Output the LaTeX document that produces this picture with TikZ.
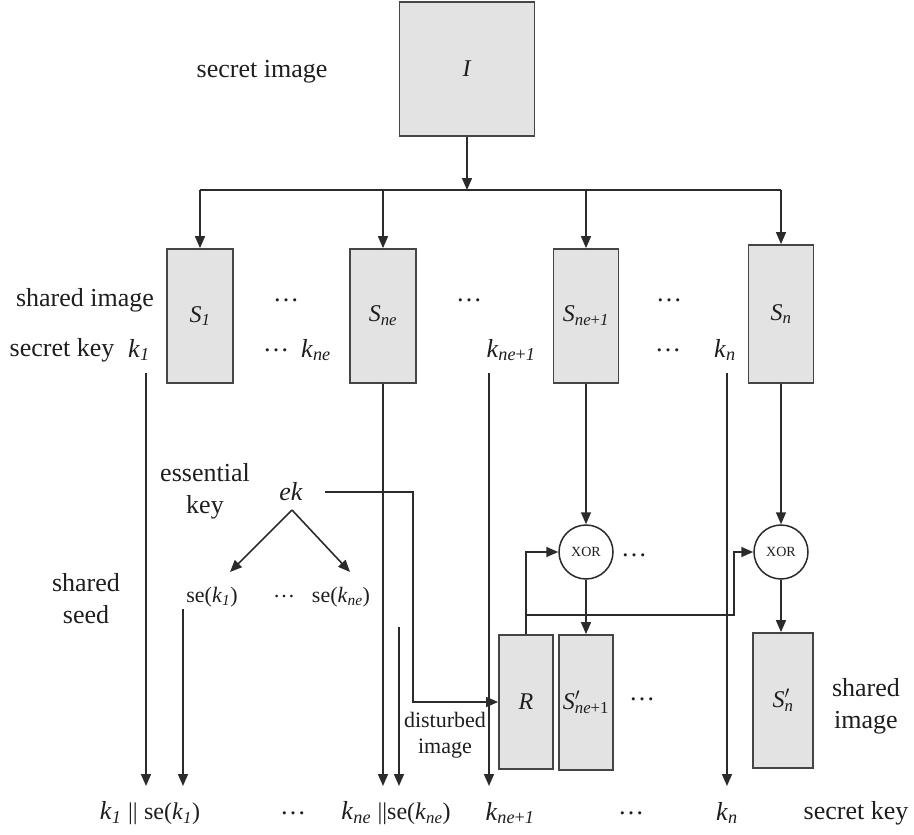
\documentclass[tikz,border=0pt]{standalone}
\usepackage{fontspec}
\setmainfont{Liberation Serif}
\usetikzlibrary{arrows.meta}
% italic symbol with italic subscript
\newcommand\isub[2]{\textit{#1}\textsubscript{#2}}
% primed symbol with stacked subscript
\newcommand\ipsub[2]{\textit{#1}\rlap{\textsuperscript{$\prime$}}\textsubscript{#2}}
\definecolor{boxfill}{HTML}{E3E3E3}
\definecolor{boxline}{HTML}{454545}
\definecolor{wirecol}{HTML}{2B2B2B}
\definecolor{inkcol}{HTML}{1E1E1E}
\begin{document}
\begin{tikzpicture}[x=1pt,y=-1pt,
  lbl/.style={font=\fontsize{26}{32}\selectfont, inner sep=0pt, text=inkcol, align=center},
  small/.style={font=\fontsize{22}{26}\selectfont, inner sep=0pt, text=inkcol, align=center},
  img/.style={draw=boxline, line width=1.8pt, fill=boxfill, inner sep=0pt,
              text=inkcol, font=\fontsize{24}{26}\selectfont},
  wire/.style={draw=wirecol, line width=1.6pt},
  arr/.style={wire, -{Triangle[length=12pt,width=10pt]}},
  xorgate/.style={circle, draw=wirecol, line width=1.5pt, fill=white, minimum size=54pt,
                  inner sep=0pt, text=inkcol, font=\fontsize{14}{16}\selectfont}
]
\useasboundingbox (0,0) rectangle (914,835);

% secret image and its split into shares
\node[img, minimum width=135pt, minimum height=134pt] (I) at (467,69) {\textit{I}};
\node[lbl] (secimg) at (262,72) {secret image};
\coordinate (bar) at (467,190);

\node[img, minimum width=66pt, minimum height=134pt] (S1)  at (200,316) {\isub{S}{\textit{1}}};
\node[img, minimum width=66pt, minimum height=134pt] (Sne) at (383,316) {\isub{S}{\textit{ne}}};
\node[img, minimum width=65pt, minimum height=134pt] (Sb)  at (586,316) {\isub{S}{\textit{ne}+\textit{1}}};
\node[img, minimum width=65pt, minimum height=138pt] (Sn)  at (781,314) {\isub{S}{\textit{n}}};

\draw[arr] (I.south) -- (bar);
\draw[wire] (bar -| S1.north) -- (bar -| Sn.north);
\foreach \b in {S1,Sne,Sb,Sn}
  \draw[arr] (bar -| \b.north) -- (\b.north);

% row labels
\node[lbl] (shimg) at (85,300) {shared image};
\node[lbl] (seckey) at (62,350) {secret key};
\node[lbl] (k1) at (139,350) {\isub{k}{\textit{1}}};
\node[lbl] (dA) at (286,300) {\dots};
\node[lbl] (dB) at (469,300) {\dots};
\node[lbl] (dC) at (669,300) {\dots};
\node[lbl] (dD) at (276,350) {…};
\node[lbl] (kne) at (316,350) {\isub{k}{\textit{ne}}};
\node[lbl] (kb) at (511,350) {\isub{k}{\textit{ne}+\textit{1}}};
\node[lbl] (dE) at (668,350) {…};
\node[lbl] (kn) at (725,350) {\isub{k}{\textit{n}}};

% essential key and shared seeds
\node[lbl] (esskey) at (205,491) {essential\\key};
\node[lbl] (ek) at (291,492) {\textit{ek}};
\node[lbl] (shseed) at (86,599) {shared\\seed};
\node[small] (se1) at (212,597) {se(\isub{k}{\textit{1}})};
\node[small] (dF) at (284,597) {…};
\node[small] (sene) at (341,597) {se(\isub{k}{\textit{ne}})};
\coordinate (fork) at (292,510);
\coordinate (tipA) at (230,572);
\coordinate (tipB) at (350,572);
\draw[arr] (fork) -- (tipA);
\draw[arr] (fork) -- (tipB);

% disturbed image and XOR stage
\node[img, minimum width=54pt, minimum height=134pt] (R)  at (526,702) {\textit{R}};
\node[img, minimum width=54pt, minimum height=135pt] (Sp) at (586,702.5) {\ipsub{S}{\textit{ne}+1}};
\node[img, minimum width=60pt, minimum height=135pt] (Snp) at (783,700.5) {\ipsub{S}{\textit{n}}};
\node[xorgate] (x1) at (586,552) {XOR};
\node[xorgate] (x2) at (781,552) {XOR};
\node[lbl] (dG) at (634,555) {\dots};
\node[lbl] (dH) at (642,699) {\dots};
\node[small] (dist) at (445,735) {disturbed\\image};
\node[lbl] (shimg2) at (866,706) {shared\\image};

\coordinate (ekdrop) at (413,702);
\draw[arr] ([xshift=22pt]ek.east) -| (ekdrop) -- (R.west);
\draw[arr] (Sb.south) -- (x1.north);
\draw[arr] (Sn.south) -- (x2.north);
\draw[arr] (x1.south) -- (Sp.north);
\draw[arr] (x2.south) -- (x2.south |- Snp.north);
\draw[arr] (R.north) |- (x1.west);
\coordinate (jog) at (734,615);
\draw[arr] (R.north) -- (R.north |- jog) -- (jog) |- (x2.west);

% keys passed down to the bottom row
\coordinate (k1top) at (146,373);   \coordinate (k1end) at (146,786);
\coordinate (s1top) at (183,609);   \coordinate (s1end) at (183,786);
\coordinate (sneend) at (383,786);
\coordinate (s2top) at (399,627);   \coordinate (s2end) at (399,786);
\coordinate (kbtop) at (489,373);   \coordinate (kbend) at (489,786);
\coordinate (kntop) at (727,373);   \coordinate (knend) at (727,786);
\draw[arr] (k1top) -- (k1end);
\draw[arr] (s1top) -- (s1end);
\draw[arr] (Sne.south) -- (sneend);
\draw[arr] (s2top) -- (s2end);
\draw[arr] (kbtop) -- (kbend);
\draw[arr] (kntop) -- (knend);

% bottom row
\node[lbl] (b1) at (150,813) {\isub{k}{\textit{1}} {\fontsize{24}{26}\selectfont||} {\fontsize{24}{26}\selectfont se(\isub{k}{\textit{1}})}};
\node[lbl] (b2) at (293,813) {…};
\node[lbl] (b3) at (396,813) {\isub{k}{\textit{ne}} {\fontsize{24}{26}\selectfont||se(\isub{k}{\textit{ne}})}};
\node[lbl] (b4) at (510,813) {\isub{k}{\textit{ne}+\textit{1}}};
\node[lbl] (b5) at (631,813) {…};
\node[lbl] (b6) at (727,813) {\isub{k}{\textit{n}}};
\node[lbl] (b7) at (856,813) {secret key};
\end{tikzpicture}
\end{document}
